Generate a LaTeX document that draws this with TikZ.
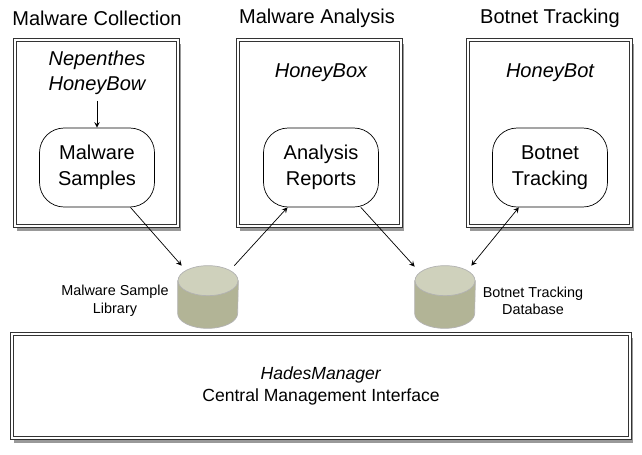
\documentclass[tikz,border=0pt]{standalone}
\usepackage{fontspec}
\setmainfont{Liberation Sans}
\usetikzlibrary{positioning, arrows.meta, shapes.geometric, calc, backgrounds}

\definecolor{dbbody}{HTML}{B2B496}
\definecolor{dbtop}{HTML}{CFD1BC}

% database drum drawn over a named (invisible) node
\newcommand{\drawdb}[1]{%
    \filldraw[fill=dbbody, draw=black!30] ($(#1.north west)+(0,-0.3cm)$) -- ($(#1.south west)+(0,0.3cm)$)
        arc[start angle=180, end angle=360, x radius=0.6cm, y radius=0.3cm] -- ($(#1.north east)+(0,-0.3cm)$) -- cycle;
    \filldraw[fill=dbtop, draw=black!30] ($(#1.north)+(0,-0.3cm)$) ellipse[x radius=0.6cm, y radius=0.3cm];
}

\begin{document}
\begin{tikzpicture}[
        x=0.02cm, y=-0.02cm,
        >=stealth,
        conn/.style={->, thin},
        title/.style={font=\fontsize{11.4}{13}\selectfont},
        tool/.style={font=\fontsize{11.4}{14}\selectfont\itshape, align=center},
        group_box/.style={draw=black!80, line width=0.6pt, double=white, double distance=1.4pt, fill=white, minimum width=3.26cm, minimum height=3.72cm},
        box_shadow/.style={fill=black!40},
        data_box/.style={draw, thin, fill=white, rounded corners=14pt, align=center, minimum width=2.3cm, minimum height=1.58cm, font=\fontsize{11.4}{15}\selectfont},
        db/.style={minimum width=1.2cm, minimum height=1.24cm, inner sep=0pt},
        db_label/.style={font=\fontsize{8.2}{10}\selectfont, align=center}
    ]
    \useasboundingbox (0,0) rectangle (642,454);

    % ========================================================
    % 1. MALWARE COLLECTION (LEFT)
    % ========================================================
    \node[title] (t_collect) at (97, 18) {Malware Collection};
    \node[group_box] (collect) at (96.5, 133) {};
    \node[tool] (honeybow) at (97, 73) {Nepenthes\\HoneyBow};
    \node[data_box] (samples) at (97, 167.5) {Malware\\Samples};
    \draw[conn] (honeybow.south) -- (samples.north);

    % ========================================================
    % 2. MALWARE ANALYSIS (MIDDLE)
    % ========================================================
    \node[title] (t_analysis) at (317, 18) {Malware Analysis};
    \node[group_box] (analysis) at (319.5, 133) {};
    \node[tool] (honeybox) at (321, 73) {HoneyBox};
    \node[data_box] (reports) at (321, 167.5) {Analysis\\Reports};

    % ========================================================
    % 3. BOTNET TRACKING (RIGHT)
    % ========================================================
    \node[title] (t_tracking) at (550, 18) {Botnet Tracking};
    \node[group_box] (tracking) at (549.5, 133) {};
    \node[tool] (honeybot) at (550, 73) {HoneyBot};
    \node[data_box] (botnet) at (550, 167.5) {Botnet\\Tracking};

    % ========================================================
    % 4. HADESMANAGER (BOTTOM)
    % ========================================================
    \node[group_box, minimum width=12.36cm, minimum height=2.08cm, font=\fontsize{10}{13}\selectfont, align=center] (manager) at (321, 386) {\textit{HadesManager}\\Central Management Interface};

    % Shadows under the boxes
    \begin{scope}[on background layer]
        \foreach \b in {collect, analysis, tracking, manager}
            \fill[box_shadow] ($(\b.south west)+(1.5pt,-2.5pt)$) rectangle ($(\b.north east)+(1.5pt,-2.5pt)$);
    \end{scope}

    % Databases
    \node[db] (libdb) at (208, 297) {};
    \drawdb{libdb}
    \node[db_label] (libdb_lbl) at (115, 301) {Malware Sample\\Library};
    \node[db] (trackdb) at (445, 297) {};
    \drawdb{trackdb}
    \node[db_label] (trackdb_lbl) at (533, 301) {Botnet Tracking\\Database};

    % Data flow
    \draw[conn] (samples.-50) -- (libdb.130);
    \draw[conn] (libdb.50) -- (reports.-130);
    \draw[conn] (reports.-45) -- (trackdb.135);
    \draw[<->, thin] (trackdb.50) -- (botnet.-128);

\end{tikzpicture}
\end{document}
